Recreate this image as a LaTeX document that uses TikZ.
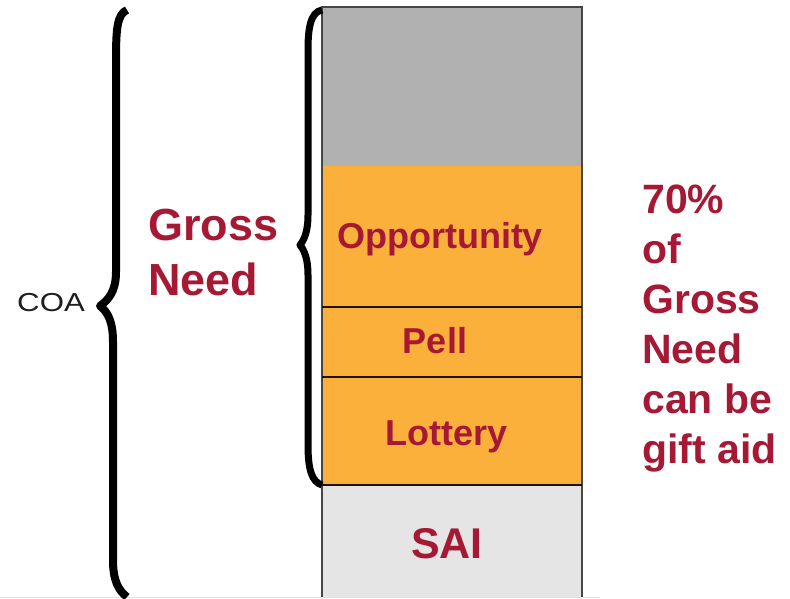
\documentclass[tikz,border=0pt]{standalone}
\usepackage{fontspec}
\setmainfont{Liberation Sans}
\usepackage{tikz}
\usepackage{xcolor}
\usetikzlibrary{positioning}

\definecolor{aidred}{RGB}{166,25,52}
\definecolor{aidorange}{RGB}{250,176,58}
\definecolor{unmetgray}{RGB}{177,177,177}
\definecolor{saigray}{RGB}{229,229,229}
\definecolor{framegray}{RGB}{70,70,70}
\definecolor{coagray}{RGB}{30,30,30}

\begin{document}
\begin{tikzpicture}[x=1pt, y=-1pt,
    block/.style={anchor=north west, inner sep=0pt, minimum width=260pt},
    aidtext/.style={text=aidred, inner sep=0pt, font=\bfseries\fontsize{36}{40}\selectfont},
    brace/.style={line width=8pt, line cap=butt, line join=round}]
                    \useasboundingbox (0,0) rectangle (790,598);
                    % Stacked bar, one block per part of the cost
                    \node[block, fill=unmetgray, minimum height=159pt] (unmet) at (322,7) {};
                    \node[block, fill=aidorange, minimum height=141pt] (opp) at (322,166) {};
                    \node[block, fill=aidorange, minimum height=70pt] (pell) at (322,307) {};
                    \node[block, fill=aidorange, minimum height=108pt] (lottery) at (322,377) {};
                    \node[block, fill=saigray, minimum height=113pt] (sai) at (322,485) {};

                    % Frame and dividers
                    \draw[framegray, line width=2pt] (sai.south west) -- (unmet.north west) -- (unmet.north east) -- (sai.south east);
                    \draw[black!85!brown, line width=2pt] (opp.south west) -- (opp.south east);
                    \draw[black!85!brown, line width=2pt] (pell.south west) -- (pell.south east);
                    \draw[black!85!brown, line width=2pt] (lottery.south west) -- (lottery.south east);
                    \draw[black!12] (0,597) -- (600,597);

                    % Block labels
                    \node[aidtext, anchor=base] (opplabel) at (440,248) {Opportunity};
                    \node[aidtext, anchor=base] (pelllabel) at (435,353) {Pell};
                    \node[aidtext, anchor=base] (lotterylabel) at (447,445) {Lottery};
                    \node[aidtext, anchor=base, font=\bfseries\fontsize{43}{48}\selectfont] (sailabel) at (447,558) {SAI};

                    % Braces
                    \draw[brace] (127,10) .. controls (117,14) and (116,30) .. (116,60) -- (116,272) .. controls (116,292) and (108,300) .. (100,306) .. controls (108,312) and (113,322) .. (113,342) -- (113,560) .. controls (113,580) and (118,590) .. (127,597);
                    \draw[brace, line width=7pt] (322,10) .. controls (310,12) and (308,30) .. (308,50) -- (308,215) .. controls (308,232) and (304,240) .. (300,245) .. controls (304,250) and (308,258) .. (308,275) -- (308,445) .. controls (308,470) and (312,482) .. (322,485);

                    % Side texts
                    \node[text=coagray, inner sep=0pt, font=\fontsize{26}{30}\selectfont, xscale=1.2, anchor=base west] (coa) at (17,311) {COA};
                    \node[aidtext, align=left, anchor=base west, font=\bfseries\fontsize{45}{55}\selectfont] (grossneed) at (148,295) {Gross\\Need};
                    \node[aidtext, align=left, anchor=base west, font=\bfseries\fontsize{41}{50}\selectfont] (giftnote) at (642,463) {70\%\\of\\Gross\\Need\\can be\\gift aid};
                \end{tikzpicture}
\end{document}
